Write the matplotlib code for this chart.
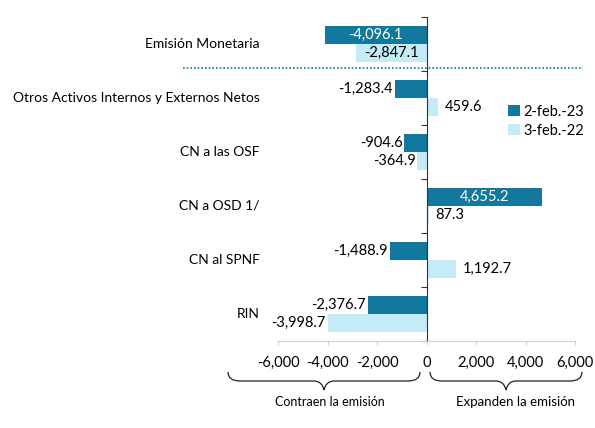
import numpy as np
import matplotlib
matplotlib.use('Agg')
import matplotlib.pyplot as plt
from matplotlib.path import Path
from matplotlib.patches import PathPatch
import matplotlib.transforms as mtransforms

plt.rcParams['font.family'] = ['Lato', 'DejaVu Sans']

# datos
categorias = ['Emisión Monetaria', 'Otros Activos Internos y Externos Netos',
              'CN a las OSF', 'CN a OSD 1/', 'CN al SPNF', 'RIN']
feb23 = [-4096.1, -1283.4, -904.6, 4655.2, -1488.9, -2376.7]
feb22 = [-2847.1, 459.6, -364.9, 87.3, 1192.7, -3998.7]
series = ['2-feb.-23', '3-feb.-22']
xticks = [-6000, -4000, -2000, 0, 2000, 4000, 6000]

c_osc = '#13789e'
c_cla = '#c5eaf8'

fig = plt.figure(figsize=(5.95, 4.28), dpi=100)
ax = fig.add_axes([278 / 595, 87 / 428, 297 / 595, 324 / 428])

y = np.arange(len(categorias))
h = 0.333
ax.barh(y - h / 2, feb23, height=h, color=c_osc, label=series[0])
ax.barh(y + h / 2, feb22, height=h, color=c_cla, label=series[1])

ax.set_xlim(-6000, 6000)
ax.set_ylim(len(categorias) - 0.5, -0.5)
ax.set_xticks(xticks)
ax.set_xticklabels([f'{v:,}' for v in xticks], fontsize=10.5)
ax.tick_params(axis='x', length=3, color='#d0d0d0', pad=8)

for s in ['top', 'right']:
    ax.spines[s].set_visible(False)
ax.spines['bottom'].set_color('#d0d0d0')
ax.spines['left'].set_position(('data', 0))
ax.spines['left'].set_color('#333333')
ax.set_yticks(np.arange(len(categorias) + 1) - 0.5)
ax.set_yticklabels([])
ax.tick_params(axis='y', length=4, color='#333333')

trans = mtransforms.blended_transform_factory(ax.transAxes, ax.transData)
for i, cat in enumerate(categorias):
    ax.text(-0.062, i, cat, transform=trans, ha='right', va='center', fontsize=10)

# etiquetas de datos
pad = 70
for i, (v1, v2) in enumerate(zip(feb23, feb22)):
    for v, yy in [(v1, i - h / 2), (v2, i + h / 2)]:
        txt = f'{v:,.1f}'
        if i == 0 or (i == 3 and v == v1):
            col = 'white' if v == v1 else 'black'
            ax.text(v / 2, yy, txt, ha='center', va='center', fontsize=10.5, color=col)
        elif v < 0:
            ax.text(v - pad, yy, txt, ha='right', va='center', fontsize=10.5)
        else:
            ax.text(v + pad + 200, yy, txt, ha='left', va='center', fontsize=10.5)

# línea punteada
ax.plot([-0.32, 1.027], [0.44, 0.44], transform=trans, color=c_osc,
        linestyle=(0, (1, 1.2)), linewidth=1.2, clip_on=False)

ax.legend(loc='upper left', bbox_to_anchor=(0.73, 0.77), frameon=False,
          fontsize=10.5, handlelength=0.8, handleheight=0.8, handletextpad=0.25,
          labelspacing=0.35)

# llaves inferiores
ov = fig.add_axes([0, 0, 1, 1], facecolor='none')
ov.set_xlim(0, 595)
ov.set_ylim(428, 0)
ov.axis('off')


def llave(x0, x1, ytop, ybot):
    xm = (x0 + x1) / 2
    ymid = (ytop + ybot) / 2
    verts = [(x0, ytop), (x0, ymid), (x0 + 12, ymid),
             (xm - 10, ymid),
             (xm - 2, ymid), (xm, ybot),
             (xm + 2, ymid), (xm + 10, ymid),
             (x1 - 12, ymid),
             (x1, ymid), (x1, ytop)]
    codes = [Path.MOVETO, Path.CURVE3, Path.CURVE3,
             Path.LINETO,
             Path.CURVE3, Path.CURVE3,
             Path.CURVE3, Path.CURVE3,
             Path.LINETO,
             Path.CURVE3, Path.CURVE3]
    ov.add_patch(PathPatch(Path(verts, codes), facecolor='none',
                           edgecolor='#222222', linewidth=0.9))


llave(228, 420, 372, 390)
llave(430, 582, 372, 390)
ov.text(330, 402, 'Contraen la emisión', ha='center', va='center', fontsize=9)
ov.text(516, 402, 'Expanden la emisión', ha='center', va='center', fontsize=9.5)

fig.savefig('out.png', dpi=100)
